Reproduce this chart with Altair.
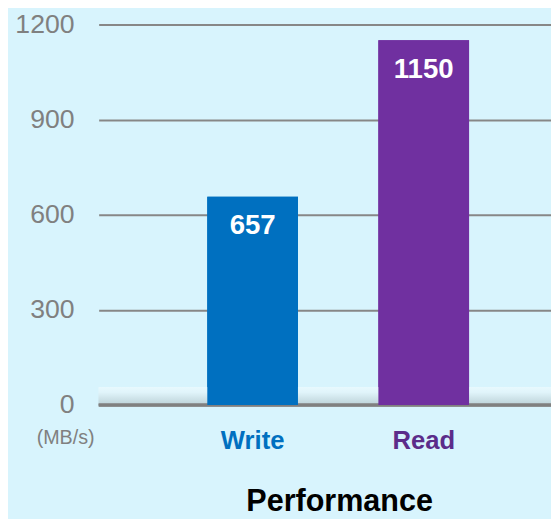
import altair as alt
import pandas as pd

# ---- data ----
categories = ["Write", "Read"]
values = [657, 1150]
value_labels = ["657", "1150"]
bar_colors = ["#0070c0", "#7030a0"]
label_colors = ["#0070c0", "#5b2c8a"]
y_ticks = [0, 300, 600, 900, 1200]
y_unit = "(MB/s)"
title_text = "Performance"

df = pd.DataFrame({"cat": categories, "val": values, "label": value_labels})

# ---- style ----
W, H = 459, 386
BG = "#d8f4fd"
FONT = "Liberation Sans"
GRID = "#878787"
FLOOR_DEPTH = 56  # in data units, decorative floor band

x_enc = alt.X(
    "cat:N",
    sort=categories,
    scale=alt.Scale(paddingInner=0.47, paddingOuter=0.557, align=0.57),
    axis=alt.Axis(
        title=None, labelAngle=0, domain=False, ticks=False,
        labelFont=FONT, labelFontSize=26, labelFontWeight="bold",
        labelPadding=23,
        labelColor={"condition": {"test": f"datum.value === '{categories[0]}'", "value": label_colors[0]},
                    "value": label_colors[1]},
    ),
)

y_scale = alt.Scale(domain=[0, 1200])
y_enc = alt.Y(
    "val:Q",
    scale=y_scale,
    axis=alt.Axis(
        values=y_ticks, format="d", title=y_unit, titleAngle=0, titleX=-34, titleY=419,
        titleAlign="center", titleBaseline="middle", titleFont=FONT,
        titleFontSize=20, titleFontWeight="normal", titleColor="#808080",
        labelFont=FONT, labelFontSize=27, labelColor="#808080", labelPadding=25,
        ticks=False, domain=False, grid=True, gridColor=GRID, gridWidth=2,
    ),
)

base = alt.Chart(df)

floor = base.mark_rect(
    color=alt.Gradient(
        gradient="linear",
        stops=[alt.GradientStop(color="#e8f9fe", offset=0),
               alt.GradientStop(color="#e0f4fa", offset=0.3),
               alt.GradientStop(color="#bcd2d8", offset=1)],
        x1=0, x2=0, y1=0, y2=1,
    )
).encode(
    x=alt.value(0), x2=alt.value(W),
    y=alt.Y(datum=0, scale=y_scale), y2=alt.Y2(datum=FLOOR_DEPTH),
)

zero = base.mark_rule(color="#808080", strokeWidth=3).encode(
    x=alt.value(0), x2=alt.value(W), y=alt.Y(datum=0, scale=y_scale)
)

bars = base.mark_bar().encode(
    x=x_enc,
    y=y_enc,
    color=alt.Color("cat:N", scale=alt.Scale(domain=categories, range=bar_colors), legend=None),
)

texts = base.mark_text(
    color="white", font=FONT, fontWeight="bold", fontSize=28, baseline="middle", dy=30
).encode(x=alt.X("cat:N", sort=categories), y=alt.Y("val:Q"), text="label:N")

chart = alt.layer(bars, floor, zero, bars, texts).properties(
    width=W, height=H,
    background=BG,
    padding={"left": 92, "top": 13, "right": 0, "bottom": 112},
    autosize=alt.AutoSizeParams(type="none"),
    title=alt.TitleParams(
        title_text, orient="bottom", anchor="middle", font=FONT, fontSize=31,
        fontWeight="bold", color="black", dx=15, offset=35,
    ),
).configure_view(stroke=None)

chart.save("out.html", embed_options={"renderer": "svg", "actions": False})
